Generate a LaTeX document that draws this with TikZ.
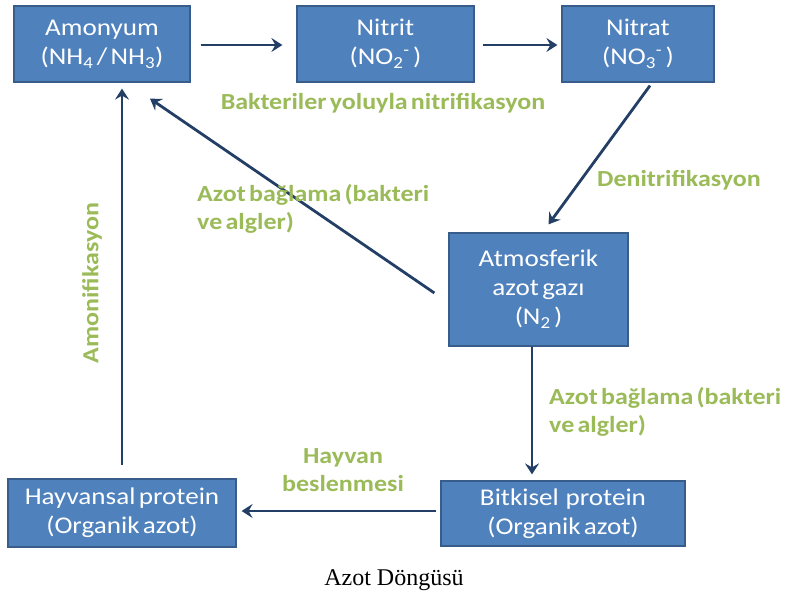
\documentclass[tikz,border=0pt]{standalone}
\usepackage{fontspec}
\setmainfont{Carlito}[FakeStretch=1.13, WordSpace=0.55]
\newfontfamily\capfont{Liberation Serif}
\usetikzlibrary{arrows.meta,calc}
\definecolor{boxfill}{HTML}{4F81BD}
\definecolor{boxline}{HTML}{385D8A}
\definecolor{arrcol}{HTML}{243F66}
\definecolor{lblgreen}{HTML}{9BBB59}
\tikzset{
  box/.style={draw=boxline, fill=boxfill, line width=1.2pt, text=white,
    font=\fontsize{24}{29}\selectfont, align=center, inner sep=0pt},
  arr/.style={draw=arrcol, line width=2.8pt,
    -{Stealth[length=11pt,width=14pt,inset=4pt]}},
  lbl/.style={text=lblgreen, font=\bfseries\fontsize{23}{28}\selectfont, inner sep=0pt}
}
\begin{document}
\begin{tikzpicture}[x=1pt,y=-1pt]
\useasboundingbox (0,0) rectangle (788,604);
\fill[white] (0,0) rectangle (788,604);

\node[box, minimum width=176pt, minimum height=76pt] (amonyum) at (102,44)
  {Amonyum\\(NH\textsubscript{4} / NH\textsubscript{3})};
\node[box, minimum width=177pt, minimum height=76pt] (nitrit) at (385.5,44)
  {Nitrit\\(NO\textsubscript{2}\textsuperscript{-} )};
\node[box, minimum width=152pt, minimum height=76pt] (nitrat) at (638,44)
  {Nitrat\\(NO\textsubscript{3}\textsuperscript{-} )};
\node[box, minimum width=179pt, minimum height=113pt] (atmos) at (538.5,289.5)
  {Atmosferik\\azot gazı\\(N\textsubscript{2} )};
\node[box, minimum width=244pt, minimum height=65pt] (bitkisel) at (563,513.5)
  {Bitkisel\ \ protein\\(Organik azot)};
\node[box, minimum width=228pt, minimum height=68pt] (hayvansal) at (122,513)
  {Hayvansal protein\\(Organik azot)};

\draw[arr] ($(amonyum.east)+(10,1)$) -- ($(nitrit.west)+(-14,1)$);
\draw[arr] ($(nitrit.east)+(8,1)$) -- ($(nitrat.west)+(-4,1)$);
\draw[arr] ($(nitrat.south)+(12,3)$) -- ($(atmos.north)+(10,-8)$);
\draw[arr] ($(atmos.west)+(-14,3.5)$) -- ($(amonyum.south)+(48,16)$);
\draw[arr] ($(atmos.south)+(-6.5,0)$) -- ($(bitkisel.north)+(-31,-6)$);
\draw[arr] ($(bitkisel.west)+(-4,-2.5)$) -- ($(hayvansal.east)+(5,-2)$);
\draw[arr] ($(hayvansal.north)+(0,-13)$) -- ($(amonyum.south)+(20,6)$);

\node[lbl] (nitrif) at (383,103) {Bakteriler yoluyla nitrifikasyon};
\node[lbl, anchor=west, align=left] (azotL) at (197,209) {Azot bağlama (bakteri\\ve algler)};
\node[lbl] (denit) at (679,180) {Denitrifikasyon};
\node[lbl, anchor=west, align=left] (azotR) at (549,412) {Azot bağlama (bakteri\\ve algler)};
\node[lbl, align=center] (hayvan) at (343,470) {Hayvan\\beslenmesi};
\node[lbl, rotate=90] (amonif) at (92,283) {Amonifikasyon};

\node[font=\capfont\fontsize{24}{28}\selectfont, inner sep=0pt] (caption) at (394,580) {Azot Döngüsü};
\end{tikzpicture}
\end{document}
